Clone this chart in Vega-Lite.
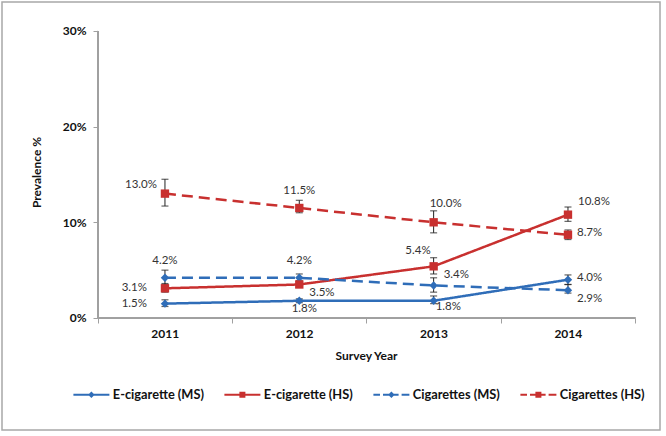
{
  "$schema": "https://vega.github.io/schema/vega-lite/v6.json",
  "width": 658,
  "height": 428,
  "autosize": "none",
  "padding": {"left": 2, "top": 2, "right": 6, "bottom": 6},
  "background": "white",
  "config": {
    "view": {"stroke": "#a8a8a8", "strokeWidth": 1.5},
    "font": "Lato"
  },
  "data": {
    "values": [
      {"series": "E-cigarette (MS)", "school": "MS", "year": 2011, "value": 1.5, "lo": 1.2, "hi": 1.9, "label": "1.5%"},
      {"series": "E-cigarette (MS)", "school": "MS", "year": 2012, "value": 1.8, "lo": 1.6, "hi": 2.0, "label": "1.8%"},
      {"series": "E-cigarette (MS)", "school": "MS", "year": 2013, "value": 1.8, "lo": 1.5, "hi": 2.3, "label": "1.8%"},
      {"series": "E-cigarette (MS)", "school": "MS", "year": 2014, "value": 4.0, "lo": 3.5, "hi": 4.5, "label": "4.0%"},
      {"series": "E-cigarette (HS)", "school": "HS", "year": 2011, "value": 3.1, "lo": 2.7, "hi": 3.6, "label": "3.1%"},
      {"series": "E-cigarette (HS)", "school": "HS", "year": 2012, "value": 3.5, "lo": 3.2, "hi": 3.9, "label": "3.5%"},
      {"series": "E-cigarette (HS)", "school": "HS", "year": 2013, "value": 5.4, "lo": 4.6, "hi": 6.3, "label": "5.4%"},
      {"series": "E-cigarette (HS)", "school": "HS", "year": 2014, "value": 10.8, "lo": 10.1, "hi": 11.6, "label": "10.8%"},
      {"series": "Cigarettes (MS)", "school": "MS", "year": 2011, "value": 4.2, "lo": 3.5, "hi": 5.0, "label": "4.2%"},
      {"series": "Cigarettes (MS)", "school": "MS", "year": 2012, "value": 4.2, "lo": 3.8, "hi": 4.6, "label": "4.2%"},
      {"series": "Cigarettes (MS)", "school": "MS", "year": 2013, "value": 3.4, "lo": 2.7, "hi": 4.2, "label": "3.4%"},
      {"series": "Cigarettes (MS)", "school": "MS", "year": 2014, "value": 2.9, "lo": 2.6, "hi": 3.5, "label": "2.9%"},
      {"series": "Cigarettes (HS)", "school": "HS", "year": 2011, "value": 13.0, "lo": 11.7, "hi": 14.5, "label": "13.0%"},
      {"series": "Cigarettes (HS)", "school": "HS", "year": 2012, "value": 11.5, "lo": 11.0, "hi": 12.3, "label": "11.5%"},
      {"series": "Cigarettes (HS)", "school": "HS", "year": 2013, "value": 10.0, "lo": 8.9, "hi": 11.2, "label": "10.0%"},
      {"series": "Cigarettes (HS)", "school": "HS", "year": 2014, "value": 8.7, "lo": 8.2, "hi": 9.2, "label": "8.7%"}
    ]
  },
  "layer": [
    {
      "mark": {"type": "line", "strokeWidth": 2.5},
      "encoding": {
        "x": {
          "field": "year", "type": "quantitative",
          "scale": {"domain": [2009.787, 2014.685], "nice": false, "zero": false},
          "axis": {
            "title": "Survey Year", "grid": false, "domain": false,
            "values": [2010.5, 2011.5, 2012.5, 2013.5, 2014.5],
            "labelExpr": "datum.value < 2014 ? format(datum.value + 0.5, 'd') : ''",
            "labelOffset": 67, "labelFlush": false, "labelOverlap": false, "labelBound": false,
            "offset": -112, "tickSize": 5, "tickColor": "#a0a0a0", "labelPadding": 5,
            "labelFont": "Lato", "labelFontWeight": "bold", "labelFontSize": 12, "labelColor": "#111",
            "titleFont": "Lato", "titleFontWeight": "bold", "titleFontSize": 12, "titleColor": "#111",
            "titleX": 364, "titleY": 32, "titleBaseline": "top", "titleAlign": "center"
          }
        },
        "y": {
          "field": "value", "type": "quantitative",
          "scale": {"domain": [-11.71, 33.03], "nice": false, "zero": false},
          "axis": {
            "title": "Prevalence %", "grid": false, "domain": false,
            "values": [0, 10, 20, 30],
            "labelExpr": "datum.value + '%'",
            "labelFlush": false, "labelOverlap": false, "labelBound": false,
            "offset": -95, "tickSize": 4, "tickColor": "#a0a0a0", "labelPadding": 7,
            "labelFont": "Lato", "labelFontWeight": "bold", "labelFontSize": 12, "labelColor": "#111",
            "titleFont": "Lato", "titleFontWeight": "bold", "titleFontSize": 12, "titleColor": "#111",
            "titleAngle": -90, "titleX": -61, "titleY": 170, "titleAlign": "center", "titleBaseline": "middle"
          }
        },
        "color": {
          "field": "series", "type": "nominal",
          "scale": {
            "domain": ["E-cigarette (MS)", "E-cigarette (HS)", "Cigarettes (MS)", "Cigarettes (HS)"],
            "range": ["#2f6db8", "#c8302f", "#2f6db8", "#c8302f"]
          },
          "legend": {
            "orient": "none", "legendX": 83, "legendY": 386,
            "direction": "horizontal", "columns": 4, "title": null,
            "symbolSize": 144, "labelOffset": 15, "columnPadding": 20,
            "labelFont": "Lato", "labelFontWeight": "bold", "labelFontSize": 12.8, "labelColor": "#111",
            "labelLimit": 300, "padding": 0,
            "encode": {
              "symbols": {
                "update": {
                  "shape": {"signal": "datum.value === 'E-cigarette (MS)' ? 'M-3,-0.16H3V0.16H-3Z M-0.55,0L0,-0.55L0.55,0L0,0.55Z' : datum.value === 'E-cigarette (HS)' ? 'M-3,-0.16H3V0.16H-3Z M-0.5,-0.5H0.5V0.5H-0.5Z' : datum.value === 'Cigarettes (MS)' ? 'M-3,-0.16H-1.9V0.16H-3Z M-1.4,-0.16H0V0.16H-1.4Z M0,-0.16H1.2V0.16H0Z M1.7,-0.16H3V0.16H1.7Z M-0.55,0L0,-0.55L0.55,0L0,0.55Z' : 'M-3,-0.16H-1.9V0.16H-3Z M-1.4,-0.16H0V0.16H-1.4Z M0,-0.16H1.2V0.16H0Z M1.7,-0.16H3V0.16H1.7Z M-0.5,-0.5H0.5V0.5H-0.5Z'"},
                  "fill": {"scale": "color", "field": "value"},
                  "stroke": {"value": "transparent"},
                  "strokeWidth": {"value": 0},
                  "strokeDash": {"value": [1, 0]},
                  "opacity": {"value": 1}
                }
              }
            }
          }
        },
        "strokeDash": {
          "field": "series", "type": "nominal",
          "scale": {
            "domain": ["E-cigarette (MS)", "E-cigarette (HS)", "Cigarettes (MS)", "Cigarettes (HS)"],
            "range": [[1, 0], [1, 0], [11, 6], [11, 6]]
          },
          "legend": null
        }
      }
    },
    {
      "mark": {"type": "rule", "color": "#a0a0a0", "strokeWidth": 1},
      "encoding": {
        "x": {"datum": 2010.5, "type": "quantitative", "title": "Survey Year"},
        "y": {"datum": 0, "type": "quantitative", "title": "Prevalence %"},
        "y2": {"datum": 30}
      }
    },
    {
      "mark": {"type": "rule", "color": "#a0a0a0", "strokeWidth": 1},
      "encoding": {
        "x": {"datum": 2010.5, "type": "quantitative", "title": "Survey Year"},
        "x2": {"datum": 2014.5},
        "y": {"datum": 0, "type": "quantitative", "title": "Prevalence %"}
      }
    },
    {
      "mark": {"type": "rule", "color": "#222", "strokeWidth": 1},
      "encoding": {
        "x": {"field": "year", "type": "quantitative", "title": "Survey Year"},
        "y": {"field": "lo", "type": "quantitative", "title": "Prevalence %"},
        "y2": {"field": "hi"}
      }
    },
    {
      "mark": {"type": "tick", "color": "#222", "orient": "horizontal", "size": 7, "thickness": 1.2},
      "encoding": {
        "x": {"field": "year", "type": "quantitative", "title": "Survey Year"},
        "y": {"field": "hi", "type": "quantitative", "title": "Prevalence %"}
      }
    },
    {
      "mark": {"type": "tick", "color": "#222", "orient": "horizontal", "size": 7, "thickness": 1.2},
      "encoding": {
        "x": {"field": "year", "type": "quantitative", "title": "Survey Year"},
        "y": {"field": "lo", "type": "quantitative", "title": "Prevalence %"}
      }
    },
    {
      "transform": [{"filter": "datum.school === 'MS'"}],
      "mark": {"type": "point", "filled": true, "opacity": 1, "shape": "diamond", "color": "#2f6db8", "size": 70},
      "encoding": {
        "x": {"field": "year", "type": "quantitative", "title": "Survey Year"},
        "y": {"field": "value", "type": "quantitative", "title": "Prevalence %"}
      }
    },
    {
      "transform": [{"filter": "datum.school === 'HS'"}],
      "mark": {"type": "point", "filled": true, "opacity": 1, "shape": "square", "color": "#c8302f", "size": 70},
      "encoding": {
        "x": {"field": "year", "type": "quantitative", "title": "Survey Year"},
        "y": {"field": "value", "type": "quantitative", "title": "Prevalence %"}
      }
    },
    {
      "transform": [{"filter": "indexof(['Cigarettes (HS)|2012', 'Cigarettes (MS)|2011', 'Cigarettes (MS)|2012'], datum.series + '|' + datum.year) >= 0"}],
      "mark": {"type": "text", "align": "center", "baseline": "middle", "dy": -17, "font": "Lato", "fontSize": 11.5, "color": "#333"},
      "encoding": {"x": {"field": "year", "type": "quantitative", "title": "Survey Year"}, "y": {"field": "value", "type": "quantitative", "title": "Prevalence %"}, "text": {"field": "label"}}
    },
    {
      "transform": [{"filter": "indexof(['Cigarettes (HS)|2013'], datum.series + '|' + datum.year) >= 0"}],
      "mark": {"type": "text", "align": "center", "baseline": "middle", "dx": 12, "dy": -18, "font": "Lato", "fontSize": 11.5, "color": "#333"},
      "encoding": {"x": {"field": "year", "type": "quantitative", "title": "Survey Year"}, "y": {"field": "value", "type": "quantitative", "title": "Prevalence %"}, "text": {"field": "label"}}
    },
    {
      "transform": [{"filter": "indexof(['Cigarettes (HS)|2011'], datum.series + '|' + datum.year) >= 0"}],
      "mark": {"type": "text", "align": "right", "baseline": "middle", "dx": -8, "dy": -9, "font": "Lato", "fontSize": 11.5, "color": "#333"},
      "encoding": {"x": {"field": "year", "type": "quantitative", "title": "Survey Year"}, "y": {"field": "value", "type": "quantitative", "title": "Prevalence %"}, "text": {"field": "label"}}
    },
    {
      "transform": [{"filter": "indexof(['E-cigarette (HS)|2013'], datum.series + '|' + datum.year) >= 0"}],
      "mark": {"type": "text", "align": "right", "baseline": "middle", "dx": -3, "dy": -15, "font": "Lato", "fontSize": 11.5, "color": "#333"},
      "encoding": {"x": {"field": "year", "type": "quantitative", "title": "Survey Year"}, "y": {"field": "value", "type": "quantitative", "title": "Prevalence %"}, "text": {"field": "label"}}
    },
    {
      "transform": [{"filter": "indexof(['E-cigarette (HS)|2011', 'E-cigarette (MS)|2011'], datum.series + '|' + datum.year) >= 0"}],
      "mark": {"type": "text", "align": "right", "baseline": "middle", "dx": -18, "dy": 0, "font": "Lato", "fontSize": 11.5, "color": "#333"},
      "encoding": {"x": {"field": "year", "type": "quantitative", "title": "Survey Year"}, "y": {"field": "value", "type": "quantitative", "title": "Prevalence %"}, "text": {"field": "label"}}
    },
    {
      "transform": [{"filter": "indexof(['Cigarettes (HS)|2014', 'E-cigarette (MS)|2014'], datum.series + '|' + datum.year) >= 0"}],
      "mark": {"type": "text", "align": "left", "baseline": "middle", "dx": 9, "dy": -2, "font": "Lato", "fontSize": 11.5, "color": "#333"},
      "encoding": {"x": {"field": "year", "type": "quantitative", "title": "Survey Year"}, "y": {"field": "value", "type": "quantitative", "title": "Prevalence %"}, "text": {"field": "label"}}
    },
    {
      "transform": [{"filter": "indexof(['Cigarettes (MS)|2013'], datum.series + '|' + datum.year) >= 0"}],
      "mark": {"type": "text", "align": "left", "baseline": "middle", "dx": 10, "dy": -10, "font": "Lato", "fontSize": 11.5, "color": "#333"},
      "encoding": {"x": {"field": "year", "type": "quantitative", "title": "Survey Year"}, "y": {"field": "value", "type": "quantitative", "title": "Prevalence %"}, "text": {"field": "label"}}
    },
    {
      "transform": [{"filter": "indexof(['E-cigarette (HS)|2014'], datum.series + '|' + datum.year) >= 0"}],
      "mark": {"type": "text", "align": "left", "baseline": "middle", "dx": 10, "dy": -13, "font": "Lato", "fontSize": 11.5, "color": "#333"},
      "encoding": {"x": {"field": "year", "type": "quantitative", "title": "Survey Year"}, "y": {"field": "value", "type": "quantitative", "title": "Prevalence %"}, "text": {"field": "label"}}
    },
    {
      "transform": [{"filter": "indexof(['Cigarettes (MS)|2014'], datum.series + '|' + datum.year) >= 0"}],
      "mark": {"type": "text", "align": "left", "baseline": "middle", "dx": 9, "dy": 9, "font": "Lato", "fontSize": 11.5, "color": "#333"},
      "encoding": {"x": {"field": "year", "type": "quantitative", "title": "Survey Year"}, "y": {"field": "value", "type": "quantitative", "title": "Prevalence %"}, "text": {"field": "label"}}
    },
    {
      "transform": [{"filter": "indexof(['E-cigarette (MS)|2013'], datum.series + '|' + datum.year) >= 0"}],
      "mark": {"type": "text", "align": "left", "baseline": "middle", "dx": 2, "dy": 6, "font": "Lato", "fontSize": 11.5, "color": "#333"},
      "encoding": {"x": {"field": "year", "type": "quantitative", "title": "Survey Year"}, "y": {"field": "value", "type": "quantitative", "title": "Prevalence %"}, "text": {"field": "label"}}
    },
    {
      "transform": [{"filter": "indexof(['E-cigarette (HS)|2012'], datum.series + '|' + datum.year) >= 0"}],
      "mark": {"type": "text", "align": "left", "baseline": "middle", "dx": 10, "dy": 9, "font": "Lato", "fontSize": 11.5, "color": "#333"},
      "encoding": {"x": {"field": "year", "type": "quantitative", "title": "Survey Year"}, "y": {"field": "value", "type": "quantitative", "title": "Prevalence %"}, "text": {"field": "label"}}
    },
    {
      "transform": [{"filter": "indexof(['E-cigarette (MS)|2012'], datum.series + '|' + datum.year) >= 0"}],
      "mark": {"type": "text", "align": "center", "baseline": "middle", "dx": 5, "dy": 8, "font": "Lato", "fontSize": 11.5, "color": "#333"},
      "encoding": {"x": {"field": "year", "type": "quantitative", "title": "Survey Year"}, "y": {"field": "value", "type": "quantitative", "title": "Prevalence %"}, "text": {"field": "label"}}
    }
  ]
}
